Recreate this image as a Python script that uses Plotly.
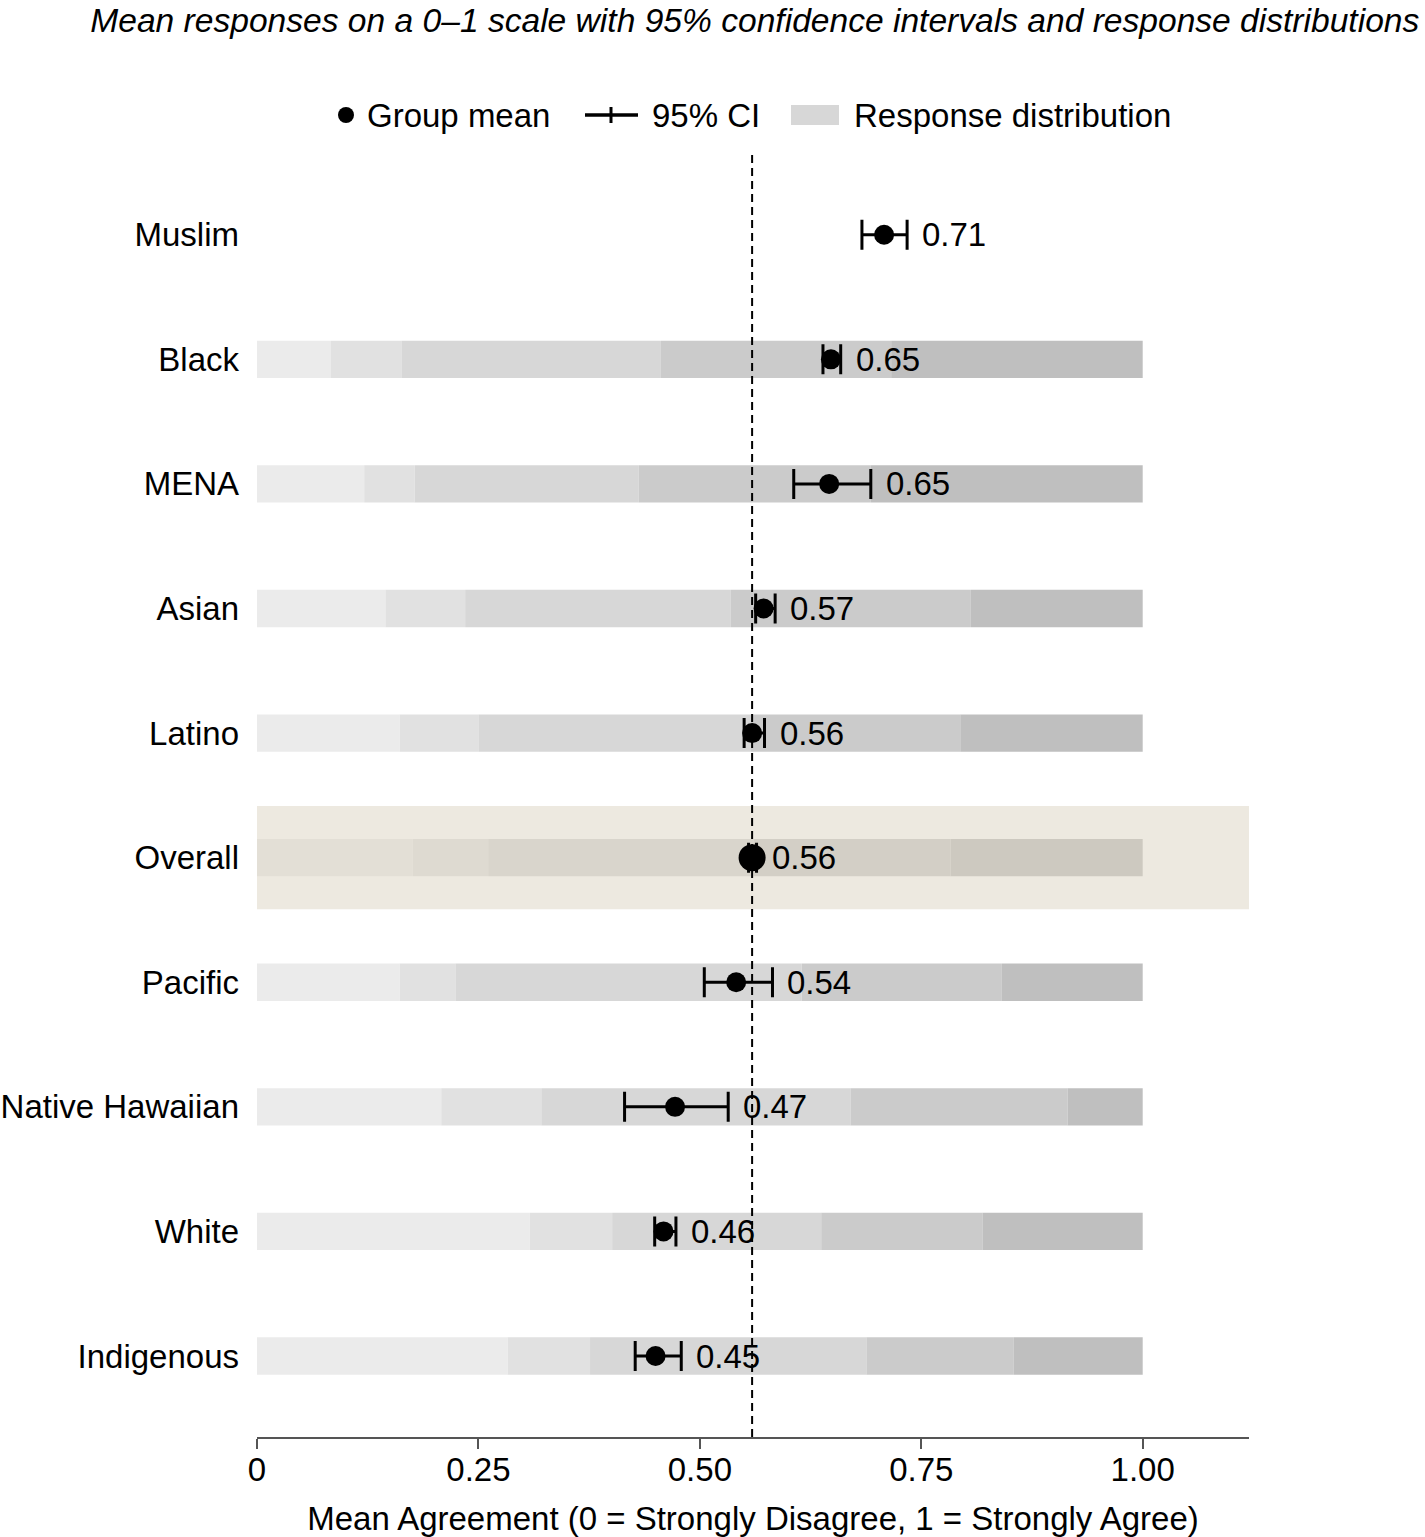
import numpy as np
import plotly.graph_objects as go

# ---------------- data ----------------
groups = ["Indigenous", "White", "Native Hawaiian", "Pacific", "Overall",
          "Latino", "Asian", "MENA", "Black", "Muslim"]
means = [0.450, 0.459, 0.472, 0.541, 0.559, 0.559, 0.572, 0.646, 0.648, 0.708]
ci_low = [0.427, 0.449, 0.415, 0.505, 0.555, 0.550, 0.563, 0.606, 0.639, 0.683]
ci_high = [0.479, 0.473, 0.532, 0.582, 0.564, 0.573, 0.585, 0.693, 0.659, 0.734]

# response distribution shares (Strongly disagree -> Strongly agree)
categories = ["Strongly disagree", "Disagree", "Neutral", "Agree", "Strongly agree"]
dist_indigenous = [0.283, 0.093, 0.312, 0.166, 0.146]
dist_white = [0.308, 0.093, 0.236, 0.182, 0.181]
dist_native_hawaiian = [0.208, 0.113, 0.349, 0.245, 0.085]
dist_pacific = [0.161, 0.063, 0.391, 0.226, 0.159]
dist_overall = [0.176, 0.085, 0.300, 0.222, 0.217]
dist_latino = [0.161, 0.089, 0.307, 0.237, 0.206]
dist_asian = [0.145, 0.090, 0.300, 0.271, 0.194]
dist_mena = [0.121, 0.057, 0.253, 0.262, 0.307]
dist_black = [0.083, 0.080, 0.293, 0.260, 0.284]
dist_muslim = None  # no distribution shown

distributions = [dist_indigenous, dist_white, dist_native_hawaiian, dist_pacific,
                 dist_overall, dist_latino, dist_asian, dist_mena, dist_black,
                 dist_muslim]

tick_vals = [0, 0.25, 0.5, 0.75, 1.0]
tick_text = ["0", "0.25", "0.50", "0.75", "1.00"]
legend_labels = ["Group mean", "95% CI", "Response distribution"]
overall_mean = means[groups.index("Overall")]

# ---------------- style ----------------
FONT = "Liberation Sans, Arial, Helvetica, sans-serif"
FS = 33
seg_colors = ["#ebebeb", "#e1e1e1", "#d7d7d7", "#cbcbcb", "#bfbfbf"]
X_MAX = 1.12
W, H = 1425, 1537
ML, MR, MT, MB = 257, 176, 155, 100
PW, PH = W - ML - MR, H - MT - MB


def px_x(px):
    return (px - ML) / PW


def px_y(py):
    return 1 - (py - MT) / PH


fig = go.Figure()

# stacked distribution segments
for k, cat in enumerate(categories):
    ys, xs, bases = [], [], []
    for g, d in zip(groups, distributions):
        if d is None:
            continue
        cum = np.concatenate([[0], np.cumsum(d)])
        ys.append(g)
        xs.append(d[k])
        bases.append(cum[k])
    fig.add_trace(go.Bar(
        y=ys, x=xs, base=bases, orientation="h", width=0.3,
        marker=dict(color=seg_colors[k], line=dict(width=0)),
        showlegend=False, hoverinfo="skip", name=cat))

# highlight band for the Overall row
fig.add_trace(go.Bar(
    y=["Overall"], x=[X_MAX], base=[0], orientation="h", width=0.83,
    marker=dict(color="rgba(219,211,193,0.5)", line=dict(width=0)),
    showlegend=False, hoverinfo="skip"))

# means with CI
sizes = [27 if g == "Overall" else 20 for g in groups]
fig.add_trace(go.Scatter(
    x=means, y=groups, mode="markers",
    marker=dict(color="black", size=sizes, opacity=1, line=dict(width=0)),
    error_x=dict(type="data", symmetric=False,
                 array=[h - m for h, m in zip(ci_high, means)],
                 arrayminus=[m - l for m, l in zip(means, ci_low)],
                 color="black", thickness=3, width=15),
    showlegend=False, hoverinfo="skip"))

# value labels
for g, m, h in zip(groups, means, ci_high):
    fig.add_annotation(x=h, y=g, text=f"{m:.2f}", showarrow=False,
                       xanchor="left", yanchor="middle", xshift=13,
                       font=dict(family=FONT, size=FS, color="black"))

# reference line at overall mean
fig.add_shape(type="line", x0=overall_mean, x1=overall_mean, xref="x",
              y0=0, y1=1, yref="paper", layer="above",
              line=dict(color="black", width=2, dash="8px,5px"))

# ---- manual legend (layout decoration) ----
ly = px_y(115)
fig.add_shape(type="circle", xref="paper", yref="paper",
              x0=px_x(338), x1=px_x(354), y0=px_y(123), y1=px_y(107),
              fillcolor="black", line=dict(width=0))
fig.add_shape(type="line", xref="paper", yref="paper",
              x0=px_x(585), x1=px_x(638), y0=ly, y1=ly,
              line=dict(color="black", width=3.5))
fig.add_shape(type="line", xref="paper", yref="paper",
              x0=px_x(611), x1=px_x(611), y0=px_y(107), y1=px_y(123),
              line=dict(color="black", width=3))
fig.add_shape(type="rect", xref="paper", yref="paper",
              x0=px_x(791), x1=px_x(839), y0=px_y(125), y1=px_y(105),
              fillcolor="#d7d7d7", line=dict(width=0))
for txt, xpx in zip(legend_labels, [365, 650, 852]):
    fig.add_annotation(xref="paper", yref="paper", x=px_x(xpx), y=ly,
                       text=txt, showarrow=False, xanchor="left", yanchor="middle",
                       font=dict(family=FONT, size=FS, color="black"))

fig.update_layout(
    width=W, height=H,
    margin=dict(l=ML, r=MR, t=MT, b=MB),
    paper_bgcolor="white", plot_bgcolor="white",
    barmode="overlay", showlegend=False,
    font=dict(family=FONT, size=FS, color="black"),
    title=dict(text="<i>Mean responses on a 0–1 scale with 95% confidence intervals and response distributions</i>",
               xref="container", x=0.996, xanchor="right",
               yref="container", y=0.987, yanchor="middle",
               font=dict(family=FONT, size=33.6, color="black")),
    xaxis=dict(range=[0, X_MAX], tickvals=tick_vals, ticktext=tick_text,
               showline=True, linecolor="#555555", linewidth=1.5,
               ticks="outside", ticklen=10, tickcolor="#555555", tickwidth=1.5,
               showgrid=False, zeroline=False, automargin=False,
               ticklabelstandoff=-7,
               title=dict(text="Mean Agreement (0 = Strongly Disagree, 1 = Strongly Agree)",
                          standoff=21, font=dict(family=FONT, size=FS))),
    yaxis=dict(type="category", categoryorder="array", categoryarray=groups,
               range=[-0.65, 9.64], showline=False, ticks="", showgrid=False,
               zeroline=False, ticklabelstandoff=17, automargin=False),
)

fig.write_html("out.html")
